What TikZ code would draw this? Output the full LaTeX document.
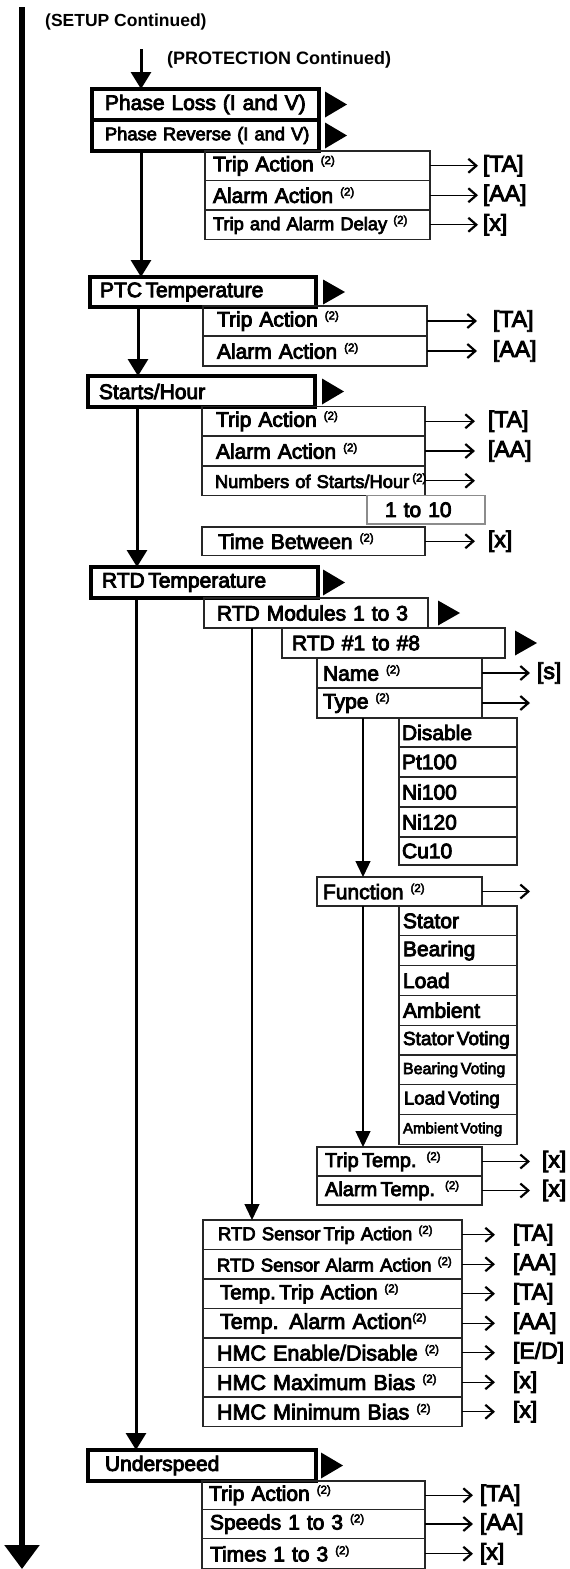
\documentclass[tikz,border=0pt]{standalone}
\usepackage{fontspec}
\setmainfont{Liberation Sans}
\newfontfamily\medf[FakeBold=4]{Liberation Sans}
\usetikzlibrary{arrows.meta,calc}
\newcommand\fsz[1]{\medf\fontsize{#1}{#1}\selectfont}
\newcommand\supt{\raisebox{.34em}{\medf\fontsize{11.5}{11.5}\selectfont(2)}}
\newcommand\mybox[8][]{%
  \pgfmathsetmacro\bxtw{#5-2*#7}%
  \node[anchor=north west, minimum width=#5pt, minimum height=#6pt, inner xsep=#7pt, inner ysep=0pt, outer sep=0pt, text width=\bxtw pt, align=left, #1] (#2) at (#3,#4) {\mbox{#8}};}
\newcommand\mytri[2]{\fill ($(#1.north east)+(#2,2.5)$) -- ($(#1.east)+(#2+22,0)$) -- ($(#1.south east)+(#2,-2.5)$) -- cycle;}
\newcommand\mylab[5]{%
  \node[lbl, anchor=west, inner xsep=#3pt] (#4) at (#1.east -| #2) {#5};
  \draw[sarr] (#1.east) -- (#4.west);}
\tikzset{
  hdr/.style={draw, line width=3.5pt, font=\fsz{21}},
  sub/.style={draw=black!85, line width=1.2pt, font=\fsz{21}},
  gbox/.style={draw=black!45, line width=1.2pt, font=\fsz{21}},
  lbl/.style={font=\fsz{23}, inner ysep=0pt, outer sep=0pt},
  mainarr/.style={line width=5.5pt, -{Triangle[width=34pt,length=24pt]}},
  bigarr/.style={line width=3pt, -{Triangle[width=20pt,length=17pt]}},
  thinarr/.style={line width=1.3pt, -{Triangle[width=15pt,length=16pt]}},
  sarr/.style={line width=1.3pt, -{Straight Barb[length=8pt,width=14pt,line width=2.2pt]}},
}
\begin{document}
\begin{tikzpicture}[x=1pt,y=-1pt]
\useasboundingbox (0,0) rectangle (570,1569);
% main line
\coordinate (mtop) at (22,7);
\coordinate (mbot) at (22,1569);
\draw[mainarr] (mtop) -- (mbot);
\node[font=\bfseries\fontsize{17.5}{20}\selectfont, anchor=west, inner sep=0pt] (setup) at (45,22) {(SETUP Continued)};
\node[font=\bfseries\fontsize{18}{20}\selectfont, anchor=west, inner sep=0pt] (prot) at (167,60) {(PROTECTION Continued)};
\coordinate (mxa) at (141,0);
\coordinate (mxb) at (138,0);
\coordinate (mxc) at (137,0);
\coordinate (mxd) at (136,0);
\coordinate (ptop) at (141,49);
% Phase
\mybox[hdr]{pl}{92}{89}{227}{31}{13}{Phase Loss (I and V)}
\mybox[hdr, font=\fsz{18.3}]{pr}{92}{120}{227}{31}{13}{Phase Reverse (I and V)}
\mytri{pl}{6}
\mytri{pr}{6}
\mybox[sub]{p1}{205}{151}{225}{29.5}{8}{Trip Action \supt}
\mybox[sub]{p2}{205}{180.5}{225}{29.5}{8}{Alarm Action \supt}
\mybox[sub, font=\fsz{18.3}]{p3}{205}{210}{225}{29.5}{8}{Trip and Alarm Delay \supt}
\coordinate (t1) at (478,0);
\mylab{p1}{t1}{5}{lp1}{[TA]}
\mylab{p2}{t1}{5}{lp2}{[AA]}
\mylab{p3}{t1}{5}{lp3}{[x]}
\draw[bigarr] (ptop) -- (ptop |- pl.north);
% PTC
\mybox[hdr]{ptc}{90}{277}{226}{30}{10}{PTC\,Temperature}
\mytri{ptc}{7}
\mybox[sub]{c1}{203}{306}{224}{30}{14}{Trip Action \supt}
\mybox[sub]{c2}{203}{336}{224}{30}{14}{Alarm Action \supt}
\coordinate (t2) at (477,0);
\mylab{c1}{t2}{16}{lc1}{[TA]}
\mylab{c2}{t2}{16}{lc2}{[AA]}
\draw[bigarr] (pr.south -| mxa) -- (ptc.north -| mxa);
% Starts/Hour
\mybox[hdr]{sh}{88}{376}{227}{31}{11}{Starts/Hour}
\mytri{sh}{7}
\mybox[sub]{s1}{202}{406.5}{223}{29.5}{14}{Trip Action \supt}
\mybox[sub]{s2}{202}{436}{223}{30}{14}{Alarm Action \supt}
\mybox[sub, font=\fsz{18.3}]{s3}{202}{466}{223}{29.5}{13}{Numbers of Starts/Hour\,\supt}
\mybox[gbox]{s10}{367}{495.5}{118}{28.5}{18}{1 to 10}
\mybox[sub]{s4}{202}{527}{223}{28.5}{16}{Time Between \supt}
\coordinate (t3) at (475,0);
\mylab{s1}{t3}{13}{ls1}{[TA]}
\mylab{s2}{t3}{13}{ls2}{[AA]}
\coordinate (es3) at (s3.east -| t3);
\draw[sarr] (s3.east) -- (es3);
\mylab{s4}{t3}{13}{ls4}{[x]}
\draw[bigarr] (ptc.south -| mxb) -- (sh.north -| mxb);
% RTD
\mybox[hdr]{rtd}{91}{567}{227}{31}{11}{RTD\,Temperature}
\mytri{rtd}{5}
\draw[bigarr] (sh.south -| mxc) -- (rtd.north -| mxc);
\mybox[sub]{rm}{204}{598}{224}{30}{13}{RTD Modules 1 to 3}
\mytri{rm}{10}
\mybox[sub]{r8}{282}{628}{223}{30}{10}{RTD \#1 to \#8}
\mytri{r8}{10}
\mybox[sub]{nm}{317}{658}{165}{30}{6}{Name \supt}
\mybox[sub]{ty}{317}{688}{165}{30}{6}{Type \supt}
\coordinate (t4) at (530,0);
\mylab{nm}{t4}{7}{lnm}{[s]}
\coordinate (ety) at (ty.east -| t4);
\draw[sarr] (ty.east) -- (ety);
\mybox[sub]{d1}{399}{718}{118}{29}{3}{Disable}
\mybox[sub]{d2}{399}{747}{118}{30}{3}{Pt100}
\mybox[sub]{d3}{399}{777}{118}{30}{3}{Ni100}
\mybox[sub]{d4}{399}{807}{118}{30}{3}{Ni120}
\mybox[sub]{d5}{399}{837}{118}{28}{3}{Cu10}
\mybox[sub]{fn}{317}{877}{165}{29}{6}{Function \supt}
\coordinate (efn) at (fn.east -| t4);
\draw[sarr] (fn.east) -- (efn);
\coordinate (mx3) at (363,0);
\draw[thinarr] (ty.south -| mx3) -- (fn.north -| mx3);
\mybox[sub]{f1}{399}{906}{118}{29.8}{4}{Stator}
\mybox[sub]{f2}{399}{935.8}{118}{29.8}{4}{Bearing}
\mybox[sub]{f3}{399}{965.6}{118}{29.8}{4}{Load}
\mybox[sub]{f4}{399}{995.4}{118}{29.8}{4}{Ambient}
\mybox[sub, font=\fsz{19}]{f5}{399}{1025.2}{118}{29.8}{4}{Stator\,Voting}
\mybox[sub, font=\fsz{16}]{f6}{399}{1055}{118}{29.8}{4}{Bearing\,Voting}
\mybox[sub, font=\fsz{18.5}]{f7}{399}{1084.8}{118}{29.8}{5}{Load\,Voting}
\mybox[sub, font=\fsz{15}]{f8}{399}{1114.6}{118}{29.8}{4}{Ambient\,Voting}
\mybox[sub, font=\fsz{20}]{tt}{317}{1147}{165}{29}{8}{Trip\,Temp. \supt}
\mybox[sub, font=\fsz{20}]{at}{317}{1176}{165}{29}{8}{Alarm\,Temp. \supt}
\mylab{tt}{t4}{12}{ltt}{[x]}
\mylab{at}{t4}{12}{lat}{[x]}
\draw[thinarr] (fn.south -| mx3) -- (tt.north -| mx3);
\mybox[sub, font=\fsz{18.5}]{r1}{203}{1220}{259}{29.5}{15}{RTD Sensor\,Trip Action \supt}
\mybox[sub, font=\fsz{18.5}]{r2}{203}{1249.5}{259}{29.5}{14}{RTD Sensor Alarm Action \supt}
\mybox[sub, font=\fsz{20.5}]{r3}{203}{1279}{259}{29.5}{17}{Temp.\,Trip Action \supt}
\mybox[sub, font=\fsz{21.5}]{r4}{203}{1308.5}{259}{29.5}{17}{Temp. Alarm Action\supt}
\mybox[sub, font=\fsz{21.5}]{r5}{203}{1338}{259}{29.5}{14}{HMC Enable/Disable \supt}
\mybox[sub, font=\fsz{21.5}]{r6}{203}{1367.5}{259}{29.5}{14}{HMC Maximum Bias \supt}
\mybox[sub, font=\fsz{21.5}]{r7}{203}{1397}{259}{29.5}{14}{HMC Minimum Bias \supt}
\coordinate (mx2) at (252,0);
\draw[thinarr] (rm.south -| mx2) -- (r1.north -| mx2);
\coordinate (t5) at (495,0);
\mylab{r1}{t5}{18}{lr1}{[TA]}
\mylab{r2}{t5}{18}{lr2}{[AA]}
\mylab{r3}{t5}{18}{lr3}{[TA]}
\mylab{r4}{t5}{18}{lr4}{[AA]}
\mylab{r5}{t5}{18}{lr5}{[E/D]}
\mylab{r6}{t5}{18}{lr6}{[x]}
\mylab{r7}{t5}{18}{lr7}{[x]}
% Underspeed
\mybox[hdr]{us}{88}{1450}{228}{31}{17}{Underspeed}
\mytri{us}{5}
\draw[bigarr] (rtd.south -| mxd) -- (us.north -| mxd);
\mybox[sub]{u1}{202}{1481}{223}{28.5}{7}{Trip Action \supt}
\mybox[sub]{u2}{202}{1509.5}{223}{29}{8}{Speeds 1 to 3 \supt}
\mybox[sub]{u3}{202}{1538.5}{223}{30.5}{8}{Times 1 to 3 \supt}
\coordinate (t6) at (473,0);
\mylab{u1}{t6}{7}{lu1}{[TA]}
\mylab{u2}{t6}{7}{lu2}{[AA]}
\mylab{u3}{t6}{7}{lu3}{[x]}
\end{tikzpicture}
\end{document}
